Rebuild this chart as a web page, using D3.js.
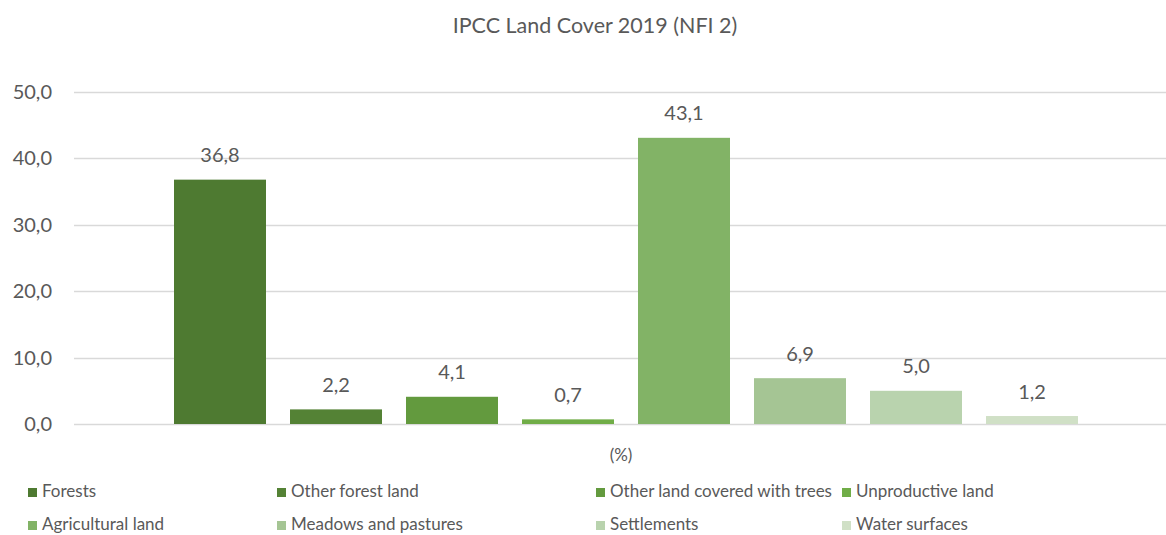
<!DOCTYPE html>
<html>
<head>
<meta charset="utf-8">
<script src="https://cdn.jsdelivr.net/npm/d3@7"></script>
<style>
  html, body { margin: 0; padding: 0; background: #fff; }
  svg { display: block; }
  text { font-family: Lato, "Open Sans", sans-serif; fill: #595959; }
</style>
</head>
<body>
<svg id="chart" width="1166" height="535"></svg>
<script>
// Land cover categories (one series each), share in percent
const categories = [
  "Forests",
  "Other forest land",
  "Other land covered with trees",
  "Unproductive land",
  "Agricultural land",
  "Meadows and pastures",
  "Settlements",
  "Water surfaces"
];
const values = [36.8, 2.2, 4.1, 0.7, 43.1, 6.9, 5.0, 1.2];
const colors = ["#4e7a31", "#548235", "#639a3e", "#70ad47", "#82b366", "#a5c594", "#b9d3ae", "#d0e0c6"];
const yTicks = [0, 10, 20, 30, 40, 50];
const groupLabel = "(%)";
const title = "IPCC Land Cover 2019 (NFI 2)";

const svg = d3.select("#chart");

const plot = { left: 74, right: 1166, top: 92, bottom: 424 };

const y = d3.scaleLinear().domain([0, 50]).range([plot.bottom, plot.top]);
const x = d3.scaleBand()
  .domain(categories)
  .range([162, 1090])
  .paddingInner(0.207)
  .paddingOuter(0.1035);

const fmt = v => d3.format(".1f")(v).replace(".", ",");

// Title
svg.append("text")
  .attr("x", 595).attr("y", 33)
  .attr("text-anchor", "middle")
  .style("font-size", "21.5px")
  .text(title);

// Horizontal gridlines
svg.append("g").selectAll("line")
  .data(yTicks)
  .join("line")
  .attr("x1", plot.left).attr("x2", plot.right)
  .attr("y1", d => Math.round(y(d)) + 0.5).attr("y2", d => Math.round(y(d)) + 0.5)
  .attr("stroke", "#d9d9d9").attr("stroke-width", 1.3);

// Y axis labels
const yAxis = d3.axisLeft(y).tickValues(yTicks).tickFormat(fmt).tickSize(0).tickPadding(0);
const ya = svg.append("g").attr("transform", "translate(52,0)").call(yAxis);
ya.select(".domain").remove();
ya.selectAll("text")
  .attr("fill", "#595959")
  .style("font-family", "Lato, 'Open Sans', sans-serif")
  .style("font-size", "20px");

// Bars
svg.append("g").selectAll("rect")
  .data(values)
  .join("rect")
  .attr("x", (d, i) => x(categories[i]))
  .attr("width", x.bandwidth())
  .attr("y", d => y(d))
  .attr("height", d => y(0) - y(d))
  .attr("fill", (d, i) => colors[i]);

// Value labels
svg.append("g").selectAll("text")
  .data(values)
  .join("text")
  .attr("x", (d, i) => x(categories[i]) + x.bandwidth() / 2)
  .attr("y", d => y(d) - 17.5)
  .attr("text-anchor", "middle")
  .style("font-size", "20px")
  .text(fmt);

// Category label under the axis
svg.append("text")
  .attr("x", 621).attr("y", 461)
  .attr("text-anchor", "middle")
  .style("font-size", "17px")
  .text(groupLabel);

// Legend, two rows of four entries
const legendCols = [28, 277, 596, 842];
const legendRows = [497, 530];
const legend = svg.append("g").selectAll("g")
  .data(categories)
  .join("g")
  .attr("transform", (d, i) => `translate(${legendCols[i % 4]},${legendRows[Math.floor(i / 4)]})`);
legend.append("rect")
  .attr("x", 0).attr("y", -9)
  .attr("width", 9).attr("height", 9)
  .attr("fill", (d, i) => colors[i]);
legend.append("text")
  .attr("x", 14).attr("y", 0)
  .style("font-size", "17px")
  .text(d => d);
</script>
</body>
</html>
